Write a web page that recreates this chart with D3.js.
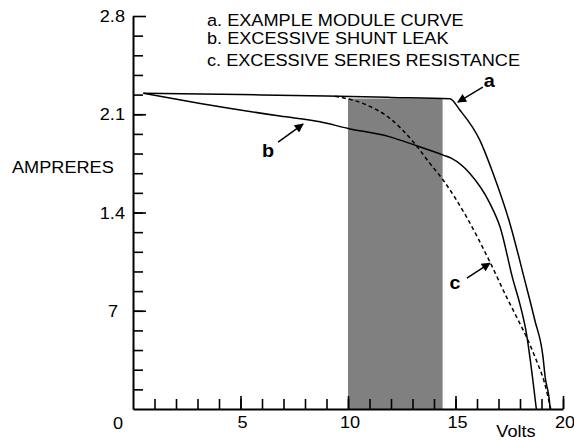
<!DOCTYPE html>
<html>
<head>
<meta charset="utf-8">
<script src="https://cdn.jsdelivr.net/npm/d3@7"></script>
<style>
  body { margin: 0; background: #fff; }
  text { font-family: "Liberation Sans", Arial, Helvetica, sans-serif; fill: #000; }
</style>
</head>
<body>
<svg id="chart" width="574" height="441"></svg>
<script>
// I-V curves: [volts, amperes]
const curveA = [
  [0.48, 2.249], [5, 2.240], [9, 2.230], [12, 2.220], [14.74, 2.210],
  [15.2, 2.13], [16.13, 1.916], [16.75, 1.678], [17.53, 1.322], [18.22, 0.918],
  [18.69, 0.632], [19.07, 0.371], [19.17, 0.228], [19.38, 0.038], [19.4, 0]
];
const curveB = [
  [0.48, 2.249], [3.13, 2.177], [6.84, 2.087], [8.7, 2.046], [10.01, 1.999],
  [11.95, 1.939], [13.11, 1.880], [14.43, 1.809], [14.82, 1.785], [15.67, 1.678],
  [16.6, 1.465], [17.07, 1.298], [17.68, 0.918], [17.99, 0.751], [18.3, 0.537],
  [18.58, 0.228], [18.76, 0]
];
const curveC = [
  [9.4, 2.228], [10.87, 2.166], [11.95, 2.071], [13.03, 1.904], [13.81, 1.75],
  [14.43, 1.63], [15.51, 1.369], [16.6, 1.048], [17.37, 0.799], [17.84, 0.656],
  [18.3, 0.513], [18.76, 0.347], [19.15, 0.181], [19.43, 0]
];

// shaded band (volts) and its top (amperes)
const bandVolts = [10, 14.4];
const bandTop = 2.212;

// axis ticks
const xMajor = [5, 10, 15, 20];
const xLabels = ["5", "10", "15", "20"];
const yMajor = [0.7, 1.4, 2.1, 2.8];
const yLabels = ["7", "1.4", "2.1", "2.8"];

// curve call-outs: label, label position, arrow start, arrow tip
const callouts = [
  { label: "a", at: [16.57, 2.296], from: [16.27, 2.293], to: [15.11, 2.187] },
  { label: "b", at: [6.28, 1.797], from: [6.75, 1.902], to: [7.91, 2.03] },
  { label: "c", at: [14.98, 0.853], from: [15.53, 0.932], to: [16.6, 1.039] }
];

const legendLines = [
  "a. EXAMPLE MODULE CURVE",
  "b. EXCESSIVE SHUNT LEAK",
  "c. EXCESSIVE SERIES RESISTANCE"
];

const svg = d3.select("#chart");
const margin = { top: 16, right: 11, bottom: 32, left: 133 };
const width = 574 - margin.left - margin.right;
const height = 441 - margin.top - margin.bottom;
const stretch = 1.1; // the scanned lettering is a little wide

const x = d3.scaleLinear().domain([0, 20]).range([margin.left, margin.left + width]);
const y = d3.scaleLinear().domain([0, 2.8]).range([margin.top + height, margin.top]);

// helper for the wide lettering
function label(g, px, py, str, opts = {}) {
  const t = g.append("g").attr("transform", `translate(${px},${py})`)
    .append("text")
    .attr("transform", `scale(${stretch},1)`)
    .attr("text-anchor", opts.anchor || "start")
    .style("font-size", (opts.size || 16.5) + "px")
    .style("font-weight", opts.bold ? "bold" : "normal")
    .text(str);
  return t;
}

// gray band
svg.append("rect")
  .attr("x", x(bandVolts[0]))
  .attr("y", y(bandTop))
  .attr("width", x(bandVolts[1]) - x(bandVolts[0]))
  .attr("height", y(0) - y(bandTop))
  .attr("fill", "#808080");

// axes: minor ticks first, then the longer major ones
const xAxisG = svg.append("g").attr("transform", `translate(0,${y(0)})`);
xAxisG.call(d3.axisTop(x).tickValues(d3.range(1, 21)).tickSize(10).tickSizeOuter(0).tickFormat(""));
xAxisG.append("g").call(d3.axisTop(x).tickValues(xMajor).tickSize(13).tickSizeOuter(0).tickFormat(""))
  .select(".domain").remove();

const yAxisG = svg.append("g").attr("transform", `translate(${x(0)},0)`);
yAxisG.call(d3.axisRight(y).tickValues(d3.range(1, 20).map(i => i * 0.14)).tickSize(10).tickSizeOuter(0).tickFormat(""));
yAxisG.append("g").call(d3.axisRight(y).tickValues(yMajor).tickSize(13).tickSizeOuter(0).tickFormat(""))
  .select(".domain").remove();

svg.selectAll(".domain").attr("stroke", "#000").attr("stroke-width", 2);
svg.selectAll(".tick line").attr("stroke", "#000").attr("stroke-width", 1.6);

// tick labels
const labelsG = svg.append("g");
xMajor.forEach((v, i) => label(labelsG, x(v) + 2, y(0) + 18.5, xLabels[i], { anchor: "middle" }));
yMajor.forEach((v, i) => {
  const shift = yLabels[i].length === 1 ? 15 : 8;
  label(labelsG, x(0) - shift, y(v) + 6, yLabels[i], { anchor: "end" });
});
label(labelsG, x(0) - 15, y(0) + 19.5, "0", { anchor: "middle" });

// axis titles
label(labelsG, 516, 436.5, "Volts", { anchor: "middle" });
label(labelsG, 12, 173, "AMPRERES");

// legend text
const legendY = [26, 44.3, 65.7];
legendLines.forEach((s, i) => label(labelsG, 207, legendY[i], s));

// curves
const line = d3.line().x(d => x(d[0])).y(d => y(d[1])).curve(d3.curveMonotoneX);
const curvesG = svg.append("g").attr("fill", "none").attr("stroke", "#000").attr("stroke-width", 1.5);
curvesG.append("path").attr("d", line(curveA));
curvesG.append("path").attr("d", line(curveB));
curvesG.append("path").attr("d", line(curveC)).attr("stroke-dasharray", "4,3");

// call-out arrows
svg.append("defs").append("marker")
  .attr("id", "head")
  .attr("viewBox", "0 0 10 10")
  .attr("refX", 9).attr("refY", 5)
  .attr("markerWidth", 11).attr("markerHeight", 9)
  .attr("markerUnits", "userSpaceOnUse")
  .attr("orient", "auto")
  .append("path").attr("d", "M0,0 L10,5 L0,10 Z").attr("fill", "#000");

const calloutG = svg.append("g");
callouts.forEach(c => {
  calloutG.append("line")
    .attr("x1", x(c.from[0])).attr("y1", y(c.from[1]))
    .attr("x2", x(c.to[0])).attr("y2", y(c.to[1]))
    .attr("stroke", "#000").attr("stroke-width", 1.5)
    .attr("marker-end", "url(#head)");
  label(calloutG, x(c.at[0]), y(c.at[1]), c.label, { anchor: "middle", bold: true, size: 18 });
});
</script>
</body>
</html>
